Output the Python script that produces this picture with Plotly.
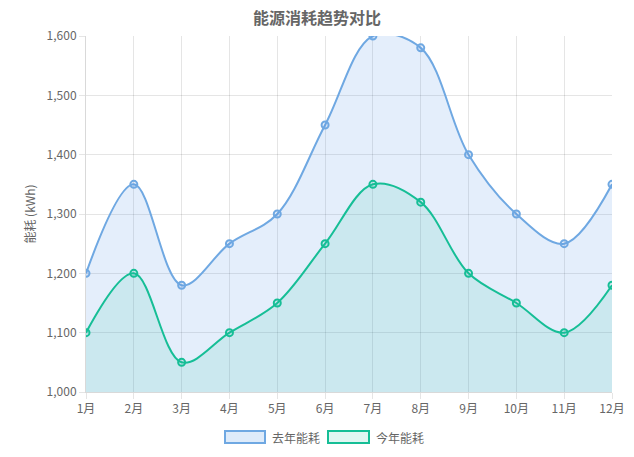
import plotly.graph_objects as go

months = ['1月', '2月', '3月', '4月', '5月', '6月', '7月', '8月', '9月', '10月', '11月', '12月']
last_year = [1200, 1350, 1180, 1250, 1300, 1450, 1600, 1580, 1400, 1300, 1250, 1350]
this_year = [1100, 1200, 1050, 1100, 1150, 1250, 1350, 1320, 1200, 1150, 1100, 1180]
series_names = ['去年能耗', '今年能耗']
chart_title = '能源消耗趋势对比'

blue_line = 'rgb(111,168,226)'
blue_fill = 'rgba(74,144,226,0.15)'
green_line = 'rgb(22,190,150)'
green_fill = 'rgba(26,188,156,0.12)'

# the page body has an 8px margin, so the figure is laid out 8px smaller
OFF = 8
W, H = 634 - OFF, 457 - OFF
L, R, T, B = 86 - OFF, 22, 36 - OFF, 65

fig = go.Figure()

for name, vals, lc, fc in [(series_names[0], last_year, blue_line, blue_fill),
                           (series_names[1], this_year, green_line, green_fill)]:
    fig.add_trace(go.Scatter(
        x=months, y=vals, mode='lines+markers', name=name,
        line=dict(color=lc, width=2, shape='spline', smoothing=1.0),
        marker=dict(size=7, color=fc, line=dict(color=lc, width=2)),
        fill='tozeroy', fillcolor=fc, showlegend=False,
    ))

# legend drawn by hand so it gets Chart.js style boxes (page pixel coords)
pw, ph = W - L - R, H - T - B
px = lambda v: (v - OFF - L) / pw
py = lambda v: (H - B - (v - OFF)) / ph
legend_items = [(225, 265, series_names[0], blue_line, 'rgba(74,144,226,0.18)'),
                (328, 369, series_names[1], green_line, 'rgba(26,188,156,0.13)')]
for x0, x1, name, lc, fc in legend_items:
    fig.add_shape(type='rect', xref='paper', yref='paper',
                  x0=px(x0), x1=px(x1), y0=py(443), y1=py(431),
                  fillcolor=fc, line=dict(color=lc, width=2))
    fig.add_annotation(xref='paper', yref='paper', x=px(x1 + 5), y=py(437),
                       text=name, showarrow=False, xanchor='left', yanchor='middle',
                       font=dict(size=12, color='#666'))

# title as an annotation so it sits where Chart.js puts it
fig.add_annotation(xref='paper', yref='paper', x=px(317), y=py(17),
                   text='<b>' + chart_title + '</b>', showarrow=False,
                   xanchor='center', yanchor='middle',
                   font=dict(size=16, color='#666'))

fig.update_layout(
    width=W, height=H,
    margin=dict(l=L, r=R, t=T, b=B),
    paper_bgcolor='white', plot_bgcolor='white',
    font=dict(family='Noto Sans CJK SC, sans-serif', size=12, color='#666'),
    showlegend=False,
    xaxis=dict(range=[0, 11], showgrid=True, gridcolor='rgba(0,0,0,0.1)',
               ticks='outside', ticklen=6, tickcolor='rgba(0,0,0,0.1)',
               showline=True, linecolor='rgba(0,0,0,0.15)', zeroline=False,
               automargin=False),
    yaxis=dict(range=[1000, 1600], dtick=100, tickformat=',',
               showgrid=True, gridcolor='rgba(0,0,0,0.1)',
               ticks='outside', ticklen=6, tickcolor='rgba(0,0,0,0.1)',
               showline=True, linecolor='rgba(0,0,0,0.15)', zeroline=False,
               automargin=False,
               title=dict(text='能耗 (kWh)', font=dict(size=12, color='#666'), standoff=8)),
)

fig.write_html("out.html")
